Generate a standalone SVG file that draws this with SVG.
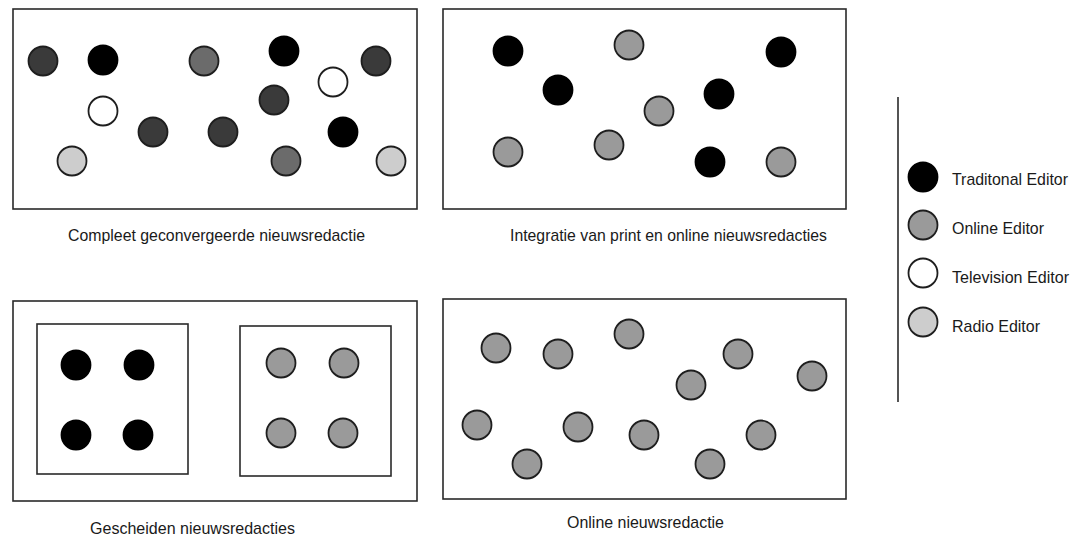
<svg xmlns="http://www.w3.org/2000/svg" width="1079" height="537" viewBox="0 0 1079 537">
<style>
.box{fill:none;stroke:#2a2a2a;stroke-width:1.6}
.c{stroke:#1e1e1e;stroke-width:1.8}
.blk{fill:#000;stroke:#000}
.dk{fill:#3a3a3a}
.md{fill:#6b6b6b}
.gr{fill:#9a9a9a}
.wh{fill:#fff}
.lt{fill:#cdcdcd}
text{font-family:"Liberation Sans",Arial,sans-serif;font-size:17px;fill:#1a1a1a}
</style>
<rect width="1079" height="537" fill="#fff"/>
<g id="panel-compleet">
<rect class="box" x="13" y="9" width="404" height="200"/>
<circle class="c dk" cx="43" cy="61" r="14.5"/>
<circle class="c blk" cx="103" cy="60" r="14.5"/>
<circle class="c md" cx="204" cy="61" r="14.5"/>
<circle class="c blk" cx="284" cy="51" r="14.5"/>
<circle class="c dk" cx="376" cy="61" r="14.5"/>
<circle class="c wh" cx="333" cy="82" r="14.5"/>
<circle class="c dk" cx="274" cy="100" r="14.5"/>
<circle class="c wh" cx="103" cy="111" r="14.5"/>
<circle class="c dk" cx="153" cy="132" r="14.5"/>
<circle class="c dk" cx="223" cy="132" r="14.5"/>
<circle class="c blk" cx="343" cy="132" r="14.5"/>
<circle class="c lt" cx="72" cy="161" r="14.5"/>
<circle class="c md" cx="286" cy="161" r="14.5"/>
<circle class="c lt" cx="391" cy="161" r="14.5"/>
<text x="68" y="241" textLength="297" lengthAdjust="spacingAndGlyphs">Compleet geconvergeerde nieuwsredactie</text>
</g>
<g id="panel-integratie">
<rect class="box" x="443" y="9" width="403" height="200"/>
<circle class="c blk" cx="508" cy="51" r="14.5"/>
<circle class="c gr" cx="629" cy="45" r="14.5"/>
<circle class="c blk" cx="781" cy="52" r="14.5"/>
<circle class="c blk" cx="558" cy="90" r="14.5"/>
<circle class="c blk" cx="719" cy="94" r="14.5"/>
<circle class="c gr" cx="659" cy="111" r="14.5"/>
<circle class="c gr" cx="508" cy="152" r="14.5"/>
<circle class="c gr" cx="609" cy="145" r="14.5"/>
<circle class="c blk" cx="710" cy="162" r="14.5"/>
<circle class="c gr" cx="781" cy="162" r="14.5"/>
<text x="510" y="241" textLength="317" lengthAdjust="spacingAndGlyphs">Integratie van print en online nieuwsredacties</text>
</g>
<g id="panel-gescheiden">
<rect class="box" x="13" y="301" width="404" height="200"/>
<rect class="box" x="37" y="324" width="151" height="150"/>
<rect class="box" x="240" y="326" width="151" height="150"/>
<circle class="c blk" cx="76" cy="365" r="14.5"/>
<circle class="c blk" cx="139" cy="365" r="14.5"/>
<circle class="c blk" cx="76" cy="435" r="14.5"/>
<circle class="c blk" cx="138" cy="435" r="14.5"/>
<circle class="c gr" cx="281" cy="363" r="14.5"/>
<circle class="c gr" cx="344" cy="363" r="14.5"/>
<circle class="c gr" cx="281" cy="433" r="14.5"/>
<circle class="c gr" cx="343" cy="433" r="14.5"/>
<text x="90" y="534" textLength="205" lengthAdjust="spacingAndGlyphs">Gescheiden nieuwsredacties</text>
</g>
<g id="panel-online">
<rect class="box" x="443" y="299" width="403" height="200"/>
<circle class="c gr" cx="496" cy="348" r="14.5"/>
<circle class="c gr" cx="558" cy="354" r="14.5"/>
<circle class="c gr" cx="629" cy="334" r="14.5"/>
<circle class="c gr" cx="738" cy="354" r="14.5"/>
<circle class="c gr" cx="691" cy="385" r="14.5"/>
<circle class="c gr" cx="812" cy="376" r="14.5"/>
<circle class="c gr" cx="477" cy="425" r="14.5"/>
<circle class="c gr" cx="578" cy="427" r="14.5"/>
<circle class="c gr" cx="644" cy="435" r="14.5"/>
<circle class="c gr" cx="761" cy="435" r="14.5"/>
<circle class="c gr" cx="527" cy="464" r="14.5"/>
<circle class="c gr" cx="710" cy="464" r="14.5"/>
<text x="567" y="528" textLength="157" lengthAdjust="spacingAndGlyphs">Online nieuwsredactie</text>
</g>
<g id="legend">
<line x1="898" y1="97" x2="898" y2="402" stroke="#2a2a2a" stroke-width="1.6"/>
<circle class="c blk" cx="923" cy="177" r="14.5"/>
<circle class="c gr" cx="923" cy="225" r="14.5"/>
<circle class="c wh" cx="923" cy="273" r="14.5"/>
<circle class="c lt" cx="923" cy="322" r="14.5"/>
<text x="952" y="185" textLength="116" lengthAdjust="spacingAndGlyphs">Traditonal Editor</text>
<text x="952" y="234" textLength="92" lengthAdjust="spacingAndGlyphs">Online Editor</text>
<text x="952" y="283" textLength="117" lengthAdjust="spacingAndGlyphs">Television Editor</text>
<text x="952" y="332" textLength="88" lengthAdjust="spacingAndGlyphs">Radio Editor</text>
</g>
<g id="connectors"></g>
</svg>
